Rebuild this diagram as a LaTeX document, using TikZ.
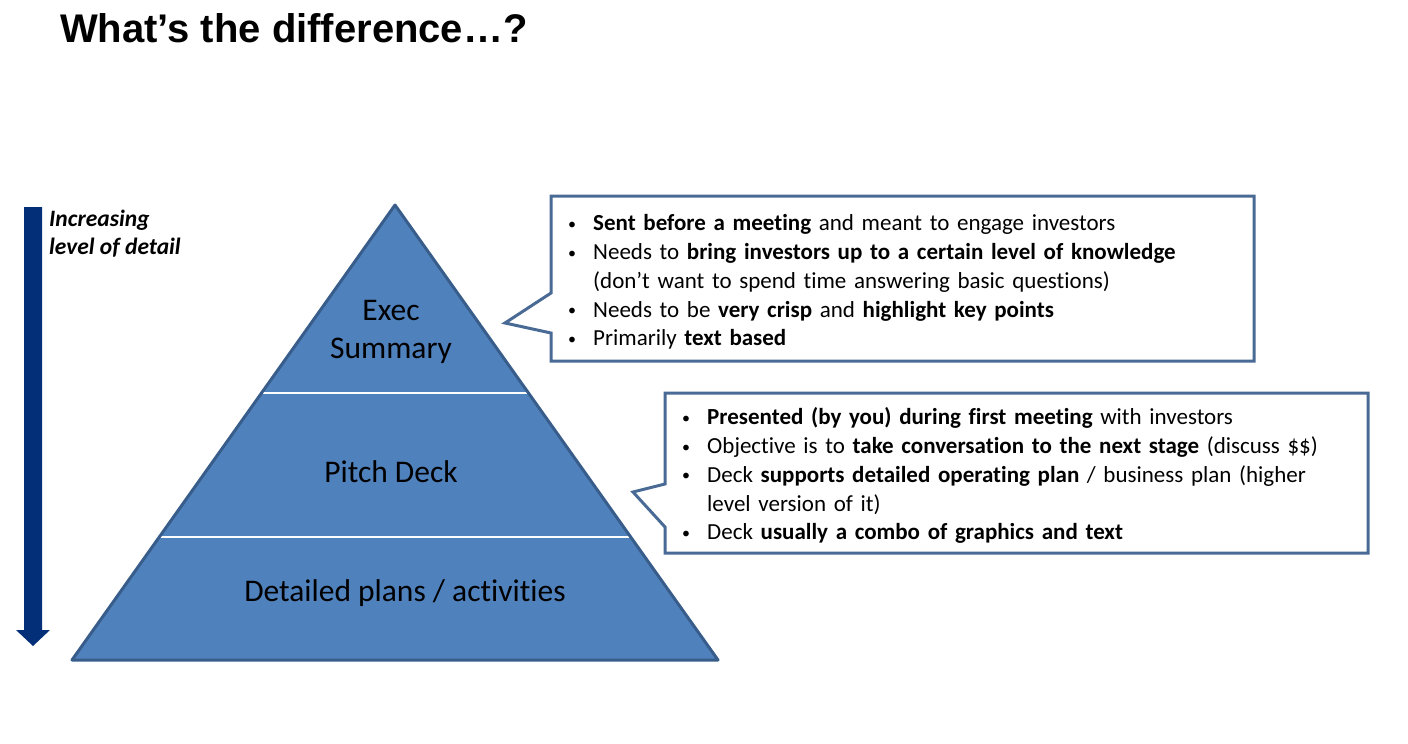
\documentclass[tikz,border=0pt]{standalone}
\usepackage{fontspec}
\setmainfont{Carlito}[Ligatures=NoCommon]
\newfontfamily\headfont{Liberation Sans}
\definecolor{tierfill}{RGB}{79,129,189}
\definecolor{tierline}{RGB}{56,93,138}
\definecolor{calloutline}{RGB}{74,106,150}
\definecolor{navy}{RGB}{3,47,120}
% bullet paragraph with hanging indent
\newcommand{\smallbullet}{\raisebox{1.6pt}{\fontsize{16}{16}\selectfont\textbullet}}
\newcommand{\bulletitem}[1]{\par\hangindent=25pt\hangafter=1\noindent\strut\makebox[25pt][l]{\smallbullet}#1}
\begin{document}
\begin{tikzpicture}[x=1pt,y=-1pt,
  tierlabel/.style={font=\fontsize{31.5}{38}\selectfont, inner sep=0pt, anchor=base, align=center},
  calloutshape/.style={draw=calloutline, line width=3pt, fill=white, line join=miter},
  callouttext/.style={font=\fontsize{23}{28.75}\selectfont, inner sep=0pt, anchor=north west, text width=680pt, align=left},
  sidelabel/.style={font=\fontsize{23.5}{28}\selectfont\bfseries\itshape, inner sep=0pt, anchor=base west, align=left}]
\useasboundingbox (0,0) rectangle (1408,744);

% title
\node[font=\headfont\fontsize{40}{48}\selectfont\bfseries, anchor=base west, inner sep=0pt] (title) at (60,42) {What’s the difference…?};

% downward arrow
\fill[navy] (24,207) -- (42,207) -- (42,630) -- (50,630) -- (33,646) -- (16,630) -- (24,630) -- cycle;
\node[sidelabel] (detail) at (49,254) {Increasing\\level of detail};

% pyramid
\coordinate (apex) at (395,205);
\coordinate (bl) at (72,660);
\coordinate (br) at (718,660);
\begin{scope}
  \clip (apex) -- (br) -- (bl) -- cycle;
  \fill[tierfill] (apex) -- (br) -- (bl) -- cycle;
  \draw[white, line width=2pt] (0,393) -- (800,393);
  \draw[white, line width=2pt] (0,537) -- (800,537);
\end{scope}
\draw[tierline, line width=3pt, line join=round] (apex) -- (br) -- (bl) -- cycle;

\node[tierlabel] (exec) at (391,320) {Exec};
\node[tierlabel] (summary) at (391,358) {Summary};
\node[tierlabel] (pitch) at (391,482) {Pitch Deck};
\node[tierlabel] (plans) at (405,601) {Detailed plans / activities};

% callout for the executive summary
\coordinate (tipA) at (505,323);
\draw[calloutshape] (551,196) -- (1254,196) -- (1254,361) -- (551,361) -- (551,333) -- (tipA) -- (551,293) -- cycle;
\node[callouttext] (textA) at (568,202) {%
\bulletitem{\textbf{Sent before a meeting} and meant to engage investors}
\bulletitem{Needs to \textbf{bring investors up to a certain level of knowledge}\newline (don’t want to spend time answering basic questions)}
\bulletitem{Needs to be \textbf{very crisp} and \textbf{highlight key points}}
\bulletitem{Primarily \textbf{text based}}};

% callout for the pitch deck
\coordinate (tipB) at (633,492);
\draw[calloutshape] (665,393) -- (1368,393) -- (1368,553) -- (665,553) -- (665,527) -- (tipB) -- (665,484) -- cycle;
\node[callouttext] (textB) at (682,396) {%
\bulletitem{\textbf{Presented (by you) during first meeting} with investors}
\bulletitem{Objective is to \textbf{take conversation to the next stage} (discuss \$\$)}
\bulletitem{Deck \textbf{supports detailed operating plan} / business plan (higher\newline level version of it)}
\bulletitem{Deck \textbf{usually a combo of graphics and text}}};
\end{tikzpicture}
\end{document}
